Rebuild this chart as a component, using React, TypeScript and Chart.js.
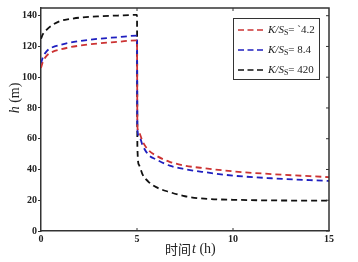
import React, { useEffect, useRef } from "react";
import { Chart, registerables } from "chart.js";

Chart.register(...registerables);

const riseTimes = [0, 0.1, 0.3, 0.6, 1, 1.5, 2, 3, 4, 5];
const fallTimes = [5.02, 5.1, 5.3, 5.6, 6, 6.7, 7.5, 8.5, 10, 12, 15];

const redRise = [106, 110, 114, 116.5, 118, 119.5, 120.5, 122, 123, 124];
const redFall = [68, 64, 58, 52.5, 49, 45, 42.5, 40.8, 38.8, 37, 35];
const blueRise = [109, 113, 117, 119.5, 121, 122.5, 123.5, 125, 126, 127];
const blueFall = [66, 62, 55.5, 49.5, 46.5, 42.5, 40.2, 38.3, 36, 34.3, 32.5];
const blackRise = [125, 128, 131, 134, 136.5, 137.8, 138.7, 139.6, 140.1, 140.5];
const blackFall = [55, 43, 36.5, 32, 28.5, 25.3, 22.6, 21, 20.3, 19.9, 19.7];

const legendValues = ["`4.2", "8.4", "420"];
const seriesColors = ["#cc3333", "#1f1fbf", "#111111"];
const yTicks = [0, 20, 40, 60, 80, 100, 120, 140];
const xTicks = [0, 5, 10, 15];

const FRAME = "#333333";
const SERIF = "'Liberation Serif', 'Times New Roman', serif";

function toPoints(rise: number[], fall: number[]) {
  const pts = riseTimes.map((t, i) => ({ x: t, y: rise[i] }));
  fallTimes.forEach((t, i) => pts.push({ x: t, y: fall[i] }));
  return pts;
}

const decorPlugin = {
  id: "decor",
  afterDraw(chart: any) {
    const { ctx, chartArea, scales } = chart;
    const { left, right, top, bottom } = chartArea;
    const xs = scales.x;
    const ys = scales.y;
    ctx.save();
    ctx.strokeStyle = FRAME;
    ctx.lineWidth = 1.5;
    ctx.beginPath();
    ctx.moveTo(left, top);
    ctx.lineTo(right, top);
    ctx.lineTo(right, bottom);
    ctx.stroke();
    ctx.lineWidth = 1;
    ctx.beginPath();
    yTicks.forEach((v) => {
      const y = ys.getPixelForValue(v);
      ctx.moveTo(right, y);
      ctx.lineTo(right - 3, y);
    });
    [5, 10].forEach((v) => {
      const x = xs.getPixelForValue(v);
      ctx.moveTo(x, top);
      ctx.lineTo(x, top + 3);
      ctx.moveTo(x, bottom);
      ctx.lineTo(x, bottom - 3);
    });
    ctx.stroke();

    // legend
    const lx = 233, ly = 18, lw = 86, lh = 61;
    ctx.fillStyle = "#ffffff";
    ctx.fillRect(lx, ly, lw, lh);
    ctx.strokeStyle = FRAME;
    ctx.lineWidth = 1;
    ctx.strokeRect(lx + 0.5, ly + 0.5, lw, lh);
    legendValues.forEach((val, i) => {
      const y = ly + 12 + i * 20;
      ctx.strokeStyle = seriesColors[i];
      ctx.lineWidth = 1.6;
      ctx.setLineDash([6, 3.5]);
      ctx.beginPath();
      ctx.moveTo(238, y);
      ctx.lineTo(263, y);
      ctx.stroke();
      ctx.setLineDash([]);
      ctx.fillStyle = "#222";
      ctx.textBaseline = "middle";
      ctx.textAlign = "left";
      let x = 268;
      ctx.font = `italic 11px ${SERIF}`;
      ctx.fillText("K/S", x, y);
      x += ctx.measureText("K/S").width;
      ctx.font = `8px ${SERIF}`;
      ctx.fillText("S", x, y + 3);
      x += ctx.measureText("S").width;
      ctx.font = `11px ${SERIF}`;
      ctx.fillText("= " + val, x, y);
    });

    // x title
    ctx.fillStyle = "#222";
    ctx.textBaseline = "middle";
    ctx.textAlign = "left";
    let tx = 165;
    const ty = 249;
    ctx.font = `13px 'Noto Sans CJK SC', sans-serif`;
    ctx.fillText("时间", tx, ty);
    tx += ctx.measureText("时间").width;
    ctx.font = `italic 14px ${SERIF}`;
    ctx.fillText("t", tx + 1, ty);
    tx += ctx.measureText("t").width + 1;
    ctx.font = `14px ${SERIF}`;
    ctx.fillText(" (h)", tx, ty);

    // y title
    ctx.save();
    ctx.translate(15, 98);
    ctx.rotate(-Math.PI / 2);
    ctx.textAlign = "left";
    ctx.font = `italic 14px ${SERIF}`;
    const hW = ctx.measureText("h").width;
    ctx.font = `14px ${SERIF}`;
    const mW = ctx.measureText(" (m)").width;
    let sx = -(hW + mW) / 2;
    ctx.font = `italic 14px ${SERIF}`;
    ctx.fillText("h", sx, 0);
    sx += hW;
    ctx.font = `14px ${SERIF}`;
    ctx.fillText(" (m)", sx, 0);
    ctx.restore();

    ctx.restore();
  },
};

export default function App() {
  const ref = useRef<HTMLCanvasElement>(null);
  useEffect(() => {
    if (!ref.current) return;
    const mk = (label: string, pts: any, color: string) => ({
      label,
      data: pts,
      borderColor: color,
      backgroundColor: color,
      borderWidth: 1.8,
      borderDash: [6, 4],
      pointRadius: 0,
      cubicInterpolationMode: "monotone" as const,
      fill: false,
    });
    const chart = new Chart(ref.current, {
      type: "line",
      data: {
        datasets: [
          mk("4.2", toPoints(redRise, redFall), seriesColors[0]),
          mk("8.4", toPoints(blueRise, blueFall), seriesColors[1]),
          mk("420", toPoints(blackRise, blackFall), seriesColors[2]),
        ],
      },
      options: {
        animation: false,
        responsive: false,
        maintainAspectRatio: false,
        layout: { padding: { left: 0, right: 29, top: 8, bottom: 0 } },
        plugins: { legend: { display: false }, tooltip: { enabled: false } },
        scales: {
          x: {
            type: "linear",
            min: 0,
            max: 15,
            afterBuildTicks: (s: any) => {
              s.ticks = xTicks.map((v) => ({ value: v }));
            },
            afterFit: (s: any) => {
              s.height = 31;
            },
            grid: { display: true, drawOnChartArea: false, drawTicks: false },
            border: { display: true, color: FRAME, width: 1.5 },
            ticks: {
              padding: 2,
              color: "#222",
              font: { family: SERIF, size: 10, weight: "bold" },
              maxRotation: 0,
            },
          },
          y: {
            type: "linear",
            min: 0,
            max: 145,
            afterBuildTicks: (s: any) => {
              s.ticks = yTicks.map((v) => ({ value: v }));
            },
            afterFit: (s: any) => {
              s.width = 41;
            },
            grid: {
              display: true,
              drawOnChartArea: false,
              drawTicks: true,
              tickLength: 3,
              color: FRAME,
            },
            border: { display: true, color: FRAME, width: 1.5 },
            ticks: {
              padding: 1,
              color: "#222",
              font: { family: SERIF, size: 10, weight: "bold" },
            },
          },
        },
      },
      plugins: [decorPlugin],
    });
    return () => chart.destroy();
  }, []);
  return (
    <div style={{ position: "absolute", left: 0, top: 0, width: 358, height: 262, background: "#fff" }}>
      <canvas ref={ref} width={358} height={262} style={{ width: 358, height: 262 }} />
    </div>
  );
}
